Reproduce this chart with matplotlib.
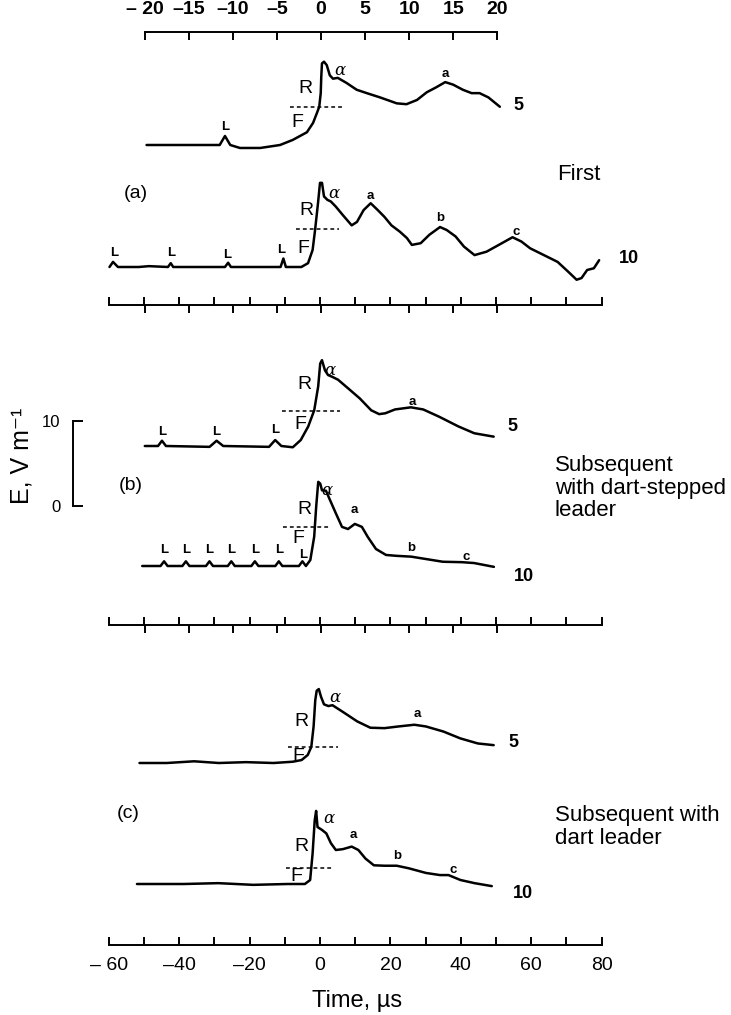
import matplotlib
matplotlib.use("Agg")
import matplotlib.pyplot as plt

plt.rcParams['font.family'] = ['Liberation Sans', 'DejaVu Sans']

# ---------------- data (time in microseconds, field in V/m above baseline) -------------
A5_t = [-19.8, -11.5, -10.9, -10.3, -9.2, -6.9, -4.65, -3.2, -1.6, -0.9, -0.45, -0.2, -0.03, 0.03,
        0.11, 0.34, 0.65, 1.0, 1.36, 1.9, 2.9, 4.05, 5.2, 6.7, 8.6, 9.7, 10.9, 12.0, 13.1, 14.1,
        15.0, 16.1, 17.1, 18.0, 19.0, 20.3]
A5_E = [0, 0, 1.06, 0, -0.35, -0.35, 0, 0.6, 1.5, 2.6, 3.8, 4.5, 6.1, 8.0, 9.6, 9.8, 9.4, 8.2,
        7.8, 7.9, 7.3, 6.5, 6.1, 5.6, 4.9, 4.8, 5.3, 6.2, 6.8, 7.4, 7.1, 6.5, 6.1, 6.1, 5.6, 4.5]

A10_t = [-59.8, -58.8, -57.4, -51.5, -48.6, -43.2, -42.4, -41.7, -27.0, -26.1, -25.3, -11.2,
         -10.4, -9.7, -5.3, -3.4, -2.1, -1.4, -0.57, 0, 0.57, 1.14, 2.1, 3.1, 4.5, 6.5, 9.0,
         10.5, 12.4, 14.4, 16.4, 18.3, 20.3, 22.7, 24.7, 26.1, 28.6, 31.1, 34.1, 36.0, 38.5,
         40.9, 43.9, 47.3, 50.8, 54.7, 57.2, 59.7, 63.6, 67.5, 70.5, 72.9, 74.3, 75.9, 77.8, 79.3]
A10_E = [0, 0.6, 0, 0, 0.1, 0, 0.45, 0, 0, 0.5, 0, 0, 1.0, 0, 0, 0.45, 2.0, 4.35, 7.5, 9.9, 9.9,
         8.3, 7.9, 7.7, 7.1, 6.1, 4.9, 5.3, 6.7, 7.5, 6.7, 5.9, 4.9, 4.15, 3.4, 2.6, 2.8, 3.8,
         4.7, 4.35, 3.6, 2.4, 1.4, 1.8, 2.6, 3.5, 3.0, 2.2, 1.4, 0.6, -0.55, -1.5, -1.3, -0.35,
         -0.15, 0.8]

B5_t = [-20.0, -18.5, -18.05, -17.6, -12.65, -11.85, -11.1, -5.9, -5.2, -4.5, -3.2, -2.3, -1.45,
        -0.77, -0.32, -0.09, 0.11, 0.45, 0.8, 1.25, 1.93, 3.06, 4.4, 5.7, 6.6, 7.3, 8.4, 10.2,
        11.6, 13.4, 15.6, 17.4, 19.6]
B5_E = [0, 0, 0.62, 0, -0.1, 0.62, 0, -0.1, 0.7, 0, -0.15, 0.7, 2.3, 4.2, 7.0, 9.7, 10.1, 8.9,
        8.35, 8.15, 7.8, 6.8, 5.6, 4.2, 3.75, 3.85, 4.3, 4.55, 4.3, 3.45, 2.3, 1.5, 1.1]

B10_t = [-50.5, -45.3, -44.3, -43.3, -39.1, -38.1, -37.1, -32.4, -31.4, -30.4, -26.2, -25.2, -24.2,
         -19.5, -18.5, -17.5, -12.7, -11.7, -10.7, -6.0, -5.0, -4.0, -2.75, -1.65, -1.08, -0.5,
         0.06, 0.57, 1.7, 2.85, 4.5, 6.25, 7.95, 9.9, 11.9, 13.6, 15.9, 18.75, 21.6, 25.9, 30.4,
         34.9, 40.3, 43.75, 49.4]
B10_E = [0, 0, 0.55, 0, 0, 0.55, 0, 0, 0.55, 0, 0, 0.55, 0, 0, 0.55, 0, 0, 0.55, 0, 0, 0.55, 0,
         0.7, 3.45, 7.0, 9.9, 9.7, 8.9, 8.85, 7.75, 6.2, 4.6, 4.35, 4.95, 4.6, 3.4, 2.0, 1.3, 1.2,
         1.1, 0.8, 0.5, 0.45, 0.35, -0.1]

C5_t = [-20.6, -17.5, -14.4, -11.6, -8.5, -5.4, -3.2, -2.2, -1.5, -1.1, -0.84, -0.65, -0.49,
        -0.25, 0, 0.34, 0.84, 1.3, 2.5, 4.1, 5.6, 7.2, 8.8, 10.6, 11.9, 13.9, 15.8, 17.8, 19.6]
C5_E = [0, 0, 0.2, 0, 0.1, 0, 0.15, 0.35, 0.95, 1.9, 4.3, 7.4, 8.5, 8.7, 7.8, 6.9, 6.7, 6.8, 6.0,
        4.9, 4.15, 4.1, 4.3, 4.5, 4.3, 3.7, 2.9, 2.3, 2.1]

C10_t = [-52.0, -38.7, -28.9, -19.0, -9.2, -4.3, -2.8, -2.1, -1.5, -1.1, -0.7, 0.6, 1.8, 3.1, 4.5,
         6.5, 9.0, 10.9, 12.9, 15.3, 18.3, 21.8, 25.2, 30.1, 34.1, 36.5, 39.9, 43.9, 48.8]
C10_E = [0, 0, 0.1, -0.1, 0, 0, 0.47, 3.6, 7.5, 8.6, 6.7, 6.35, 5.95, 4.8, 4.0, 4.1, 4.4, 4.0,
         3.0, 2.2, 2.15, 2.15, 1.85, 1.3, 1.05, 1.05, 0.47, 0.1, -0.25]

# dashed level lines: (t_start, t_end, level)
A5_DASH = (-3.5, 2.5, 4.5)
A10_DASH = (-6.8, 5.5, 4.5)
B5_DASH = (-4.4, 2.2, 4.15)
B10_DASH = (-10.6, 2.85, 4.6)
C5_DASH = (-3.8, 1.9, 1.85)
C10_DASH = (-9.7, 4.0, 1.85)

# axis tick values / labels
TOP_TICKS = [-20, -15, -10, -5, 0, 5, 10, 15, 20]
TOP_LABELS = ['\u2013 20', '\u201315', '\u201310', '\u20135', '0', '5', '10', '15', '20']
WIDE_TICKS = [-60, -50, -40, -30, -20, -10, 0, 10, 20, 30, 40, 50, 60, 70, 80]
BOTTOM_MAJOR = [-60, -40, -20, 0, 20, 40, 60, 80]
BOTTOM_LABELS = ['\u2013 60', '\u201340', '\u201320', '0', '20', '40', '60', '80']
BOTTOM_MINOR = [-50, -30, -10, 10, 30, 50, 70]
SCALE_TICKS = [0, 10]

# trace annotations: (text, t, E)
A5_NOTES = [('L', -10.9, 2.1), ('F', -2.7, 2.6), ('R', -1.8, 6.7), ('\u03b1', 2.2, 8.8),
            ('a', 14.1, 8.35), ('5', 21.8, 4.7)]
A10_NOTES = [('L', -58.4, 1.65), ('L', -42.4, 1.65), ('L', -26.4, 1.4), ('L', -11.1, 2.0),
             ('F', -4.8, 2.2), ('R', -3.8, 6.7), ('\u03b1', 4.0, 8.7), ('a', 14.4, 8.3),
             ('b', 34.1, 5.8), ('c', 55.7, 4.15), ('10', 84.8, 1.05)]
B5_NOTES = [('L', -18.05, 1.7), ('L', -11.85, 1.7), ('L', -5.2, 1.9), ('F', -2.3, 2.5),
            ('R', -1.9, 7.2), ('\u03b1', 1.0, 8.9), ('a', 10.4, 5.2), ('5', 21.2, 2.35)]
B10_NOTES = [('L', -44.3, 1.9), ('L', -38.1, 1.9), ('L', -31.4, 1.9), ('L', -25.2, 1.9),
             ('L', -18.5, 1.9), ('L', -11.7, 1.9), ('L', -4.7, 1.3), ('F', -6.3, 3.2),
             ('R', -4.45, 6.6), ('\u03b1', 2.1, 8.9), ('a', 9.8, 6.6), ('b', 25.9, 2.15),
             ('c', 41.6, 1.0), ('10', 55.1, -1.25)]
C5_NOTES = [('F', -2.6, 0.75), ('R', -2.2, 4.85), ('\u03b1', 1.6, 7.7), ('a', 10.9, 5.75),
            ('5', 21.3, 2.4)]
C10_NOTES = [('F', -6.8, 0.85), ('R', -5.3, 4.4), ('\u03b1', 2.6, 7.7), ('a', 9.5, 5.75),
             ('b', 22.0, 3.3), ('c', 37.8, 1.7), ('10', 54.7, -1.1)]

# ---------------- layout (pixels) ----------------
W, H = 731, 1015
NARROW = (321.0, 8.81)   # pixel of t=0, pixels per microsecond
WIDE = (320.0, 3.52)
PX_PER_V = 8.5

fig = plt.figure(figsize=(W / 100, H / 100), dpi=100)
fig.patch.set_facecolor('white')

LW = 1.8


def overlay(scale, ybase):
    x0, sx = scale
    ax = fig.add_axes([0, 0, 1, 1])
    ax.set_xlim(-x0 / sx, (W - x0) / sx)
    ax.set_ylim((ybase - H) / PX_PER_V, ybase / PX_PER_V)
    ax.axis('off')
    ax.patch.set_alpha(0)
    return ax


def note(ax, txt, t, e):
    if txt == '\u03b1':
        ax.text(t, e, txt, family='DejaVu Serif', style='italic', fontsize=12,
                ha='center', va='center')
    elif txt in ('R', 'F'):
        ax.text(t, e, txt, fontsize=14, ha='center', va='center')
    elif txt in ('5', '10'):
        ax.text(t, e, txt, fontsize=13, fontweight='bold', ha='left', va='center')
    else:
        ax.text(t, e, txt, fontsize=9.5, fontweight='bold', ha='center', va='center')


traces = [
    (NARROW, 145, A5_t, A5_E, A5_DASH, A5_NOTES),
    (WIDE, 267, A10_t, A10_E, A10_DASH, A10_NOTES),
    (NARROW, 446, B5_t, B5_E, B5_DASH, B5_NOTES),
    (WIDE, 566, B10_t, B10_E, B10_DASH, B10_NOTES),
    (NARROW, 763, C5_t, C5_E, C5_DASH, C5_NOTES),
    (WIDE, 884, C10_t, C10_E, C10_DASH, C10_NOTES),
]
for scale, yb, tt, ee, dash, notes in traces:
    ax = overlay(scale, yb)
    ax.plot(tt, ee, color='black', lw=LW, solid_joinstyle='round', solid_capstyle='round')
    ax.plot([dash[0], dash[1]], [dash[2], dash[2]], color='black', lw=1.1, ls=(0, (2.5, 2)))
    for txt, t, e in notes:
        note(ax, txt, t, e)


def px_axes(x_left, x_right, y_px):
    return fig.add_axes([x_left / W, 1 - y_px / H, (x_right - x_left) / W, 0.2 / H])


def hide_all(ax):
    for s in ax.spines.values():
        s.set_visible(False)
    ax.set_yticks([])
    ax.patch.set_alpha(0)


nx0, nsx = NARROW
wx0, wsx = WIDE
n_left, n_right = nx0 - 20 * nsx, nx0 + 20 * nsx
w_left, w_right = wx0 - 60 * wsx, wx0 + 80 * wsx

# top narrow time axis
ax = px_axes(n_left, n_right, 32)
hide_all(ax)
ax.spines['bottom'].set_visible(True)
ax.spines['bottom'].set_linewidth(1.4)
ax.set_xlim(-20, 20)
ax.set_xticks(TOP_TICKS, TOP_LABELS)
ax.tick_params(axis='x', direction='out', length=6, width=1.4, bottom=True, top=False,
               labelbottom=False, labeltop=True, labelsize=14, pad=4)
for lab in ax.get_xticklabels():
    lab.set_fontweight('bold')

# intermediate combined axes
for y_ax in (305, 625):
    ax = px_axes(w_left, w_right, y_ax)
    hide_all(ax)
    ax.spines['bottom'].set_visible(True)
    ax.spines['bottom'].set_linewidth(1.4)
    ax.set_xlim(-60, 80)
    ax.set_xticks(WIDE_TICKS)
    ax.tick_params(axis='x', direction='in', length=6, width=1.4, labelbottom=False)
    ax2 = px_axes(n_left, n_right, y_ax)
    hide_all(ax2)
    ax2.set_xlim(-20, 20)
    ax2.set_xticks(TOP_TICKS)
    ax2.tick_params(axis='x', direction='out', length=6, width=1.4, labelbottom=False)

# bottom wide time axis
ax = px_axes(w_left, w_right, 945)
hide_all(ax)
ax.spines['bottom'].set_visible(True)
ax.spines['bottom'].set_linewidth(1.4)
ax.set_xlim(-60, 80)
ax.set_xticks(BOTTOM_MAJOR, BOTTOM_LABELS)
ax.set_xticks(BOTTOM_MINOR, minor=True)
ax.tick_params(axis='x', which='both', direction='in', length=6, width=1.4, labelsize=14, pad=9)
fig.text(357 / W, 1 - 1001 / H, 'Time, \u00b5s', fontsize=17, ha='center', va='center')

# field scale bar
sb = fig.add_axes([73 / W, 1 - 506 / H, 0.2 / W, 85 / H])
for s in sb.spines.values():
    s.set_visible(False)
sb.spines['left'].set_visible(True)
sb.spines['left'].set_linewidth(1.4)
sb.set_ylim(0, 10)
sb.set_xticks([])
sb.set_yticks(SCALE_TICKS, [str(v) for v in SCALE_TICKS])
sb.tick_params(axis='y', direction='in', length=7, width=1.4, labelsize=12, pad=9)
sb.patch.set_alpha(0)
fig.text(22 / W, 1 - 456 / H, 'E, V m\u207b\u00b9', rotation=90, fontsize=18,
         ha='center', va='center', family=['Liberation Sans', 'DejaVu Sans'])

# panel letters and captions
fig.text(136 / W, 1 - 193 / H, '(a)', fontsize=14, ha='center', va='center')
fig.text(131 / W, 1 - 485 / H, '(b)', fontsize=14, ha='center', va='center')
fig.text(128 / W, 1 - 813 / H, '(c)', fontsize=14, ha='center', va='center')
fig.text(557 / W, 1 - 175 / H, 'First', fontsize=16, ha='left', va='center')
fig.text(555 / W, 1 - 455 / H, 'Subsequent\nwith dart-stepped\nleader', fontsize=16,
         ha='left', va='top', linespacing=1.1)
fig.text(555 / W, 1 - 805 / H, 'Subsequent with\ndart leader', fontsize=16,
         ha='left', va='top', linespacing=1.1)

fig.savefig('out.png', dpi=100, facecolor='white')
